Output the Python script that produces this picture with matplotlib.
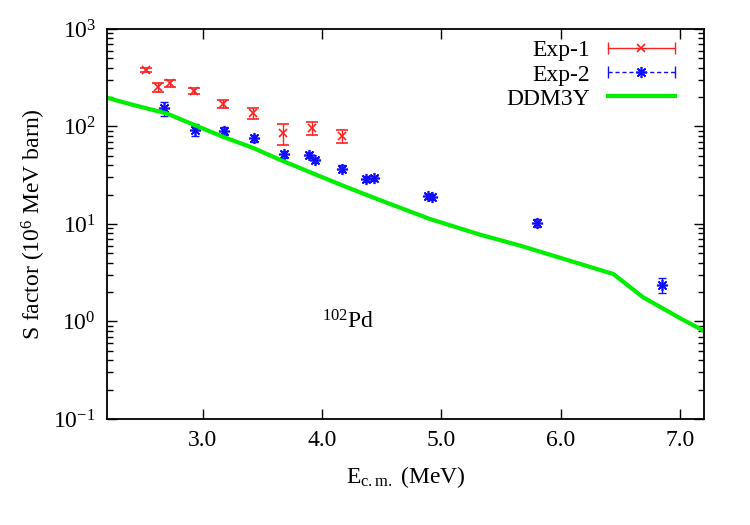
import matplotlib
matplotlib.use("Agg")
import matplotlib.pyplot as plt
from matplotlib.lines import Line2D
from matplotlib.legend_handler import HandlerBase
from matplotlib.ticker import FixedLocator, LogLocator, NullFormatter, NullLocator

plt.rcParams['font.family'] = ['Liberation Serif', 'DejaVu Serif']
plt.rcParams['mathtext.fontset'] = 'custom'
plt.rcParams['mathtext.rm'] = 'Liberation Serif'
plt.rcParams['mathtext.it'] = 'Liberation Serif:italic'
plt.rcParams['mathtext.bf'] = 'Liberation Serif:bold'
plt.rcParams['axes.unicode_minus'] = False

# ---- data ----
exp1_E = [2.53, 2.63, 2.73, 2.93, 3.17, 3.42, 3.67, 3.92, 4.17]
exp1_S = [380, 252, 277, 233, 170, 136, 85, 96, 80]
exp1_err = [18, 28, 20, 18, 15, 18, 20, 15, 13]

exp2_E = [2.68, 2.94, 3.18, 3.43, 3.68, 3.89, 3.94, 4.17, 4.37, 4.44, 4.89, 4.92, 5.80, 6.85]
exp2_S = [154, 92, 90, 76, 52, 51, 45, 37, 29, 29.4, 19.2, 19.0, 10.3, 2.37]
exp2_err = [25, 13, 8, 6, 4, 4, 3, 3, 2, 2, 1.3, 1.3, 1.0, 0.4]

ddm_E = [2.2, 2.39, 2.70, 2.92, 3.17, 3.42, 3.65, 3.93, 4.21, 4.49, 4.90, 5.32, 5.66,
         6.44, 6.69, 7.0, 7.2]
ddm_S = [197, 170, 136, 105, 78.5, 60.5, 45.5, 32.8, 23.8, 17.5, 11.3, 7.8, 6.0,
         3.07, 1.77, 1.08, 0.80]

xticks = [3.0, 4.0, 5.0, 6.0, 7.0]
xtick_labels = ['3.0', '4.0', '5.0', '6.0', '7.0']

red = '#ff2020'
blue = '#1010ff'
green = '#00ee00'

fig = plt.figure(figsize=(7.5, 5.25), dpi=100)
ax = fig.add_axes([0.1427, 0.2019, 0.9387 - 0.1427, 0.9448 - 0.2019])

e1 = ax.errorbar(exp1_E, exp1_S, yerr=exp1_err, fmt='x', color=red, ms=6, mew=1.2,
                 elinewidth=1.0, capsize=4, capthick=1.0, label='Exp-1')
e2 = ax.errorbar(exp2_E, exp2_S, yerr=exp2_err, fmt='none', ecolor=blue,
                 elinewidth=1.0, capsize=3, capthick=1.0, label='Exp-2')
ax.plot(exp2_E, exp2_S, linestyle='none', marker=(8, 2, 0), color=blue, ms=8, mew=1.2)
l3, = ax.plot(ddm_E, ddm_S, color=green, lw=3.0, label='DDM3Y')


class HandlerCapLine(HandlerBase):
    def __init__(self, color, ls, marker, ms, **kw):
        super().__init__(**kw)
        self.color, self.ls, self.marker, self.ms = color, ls, marker, ms

    def create_artists(self, legend, orig_handle, xdescent, ydescent, width, height,
                       fontsize, trans):
        y = height / 2 - ydescent
        x0, x1 = -xdescent, width - xdescent
        line = Line2D([x0, x1], [y, y], color=self.color, ls=self.ls, lw=1.0)
        caps = Line2D([x0, x1], [y, y], color=self.color, ls='none', marker='|', ms=8, mew=1.0)
        mk = Line2D([(x0 + x1) / 2], [y], color=self.color, ls='none', marker=self.marker,
                    ms=self.ms, mew=1.2)
        for a in (line, caps, mk):
            a.set_transform(trans)
        return [line, caps, mk]


leg = ax.legend([e1, e2, l3], ['Exp-1', 'Exp-2', 'DDM3Y'],
                handler_map={e1: HandlerCapLine(red, '-', 'x', 6),
                             e2: HandlerCapLine(blue, (0, (3, 2)), (8, 2, 0), 8)},
                loc='upper right', bbox_to_anchor=(0.9514, 0.972), frameon=False,
                markerfirst=False, fontsize=17, handlelength=2.84, handletextpad=0.76,
                labelspacing=0.11, borderpad=0, borderaxespad=0)

ax.text(4.0, 1.0, r'$^{102}$Pd', fontsize=17, ha='left', va='center')

ax.set_yscale('log')
ax.set_xlim(2.2, 7.2)
ax.set_ylim(0.1, 1000)
ax.xaxis.set_major_locator(FixedLocator(xticks))
ax.set_xticklabels(xtick_labels)
ax.xaxis.set_minor_locator(NullLocator())
ax.yaxis.set_major_locator(LogLocator(base=10, numticks=10))
ax.yaxis.set_minor_locator(LogLocator(base=10, subs=range(2, 10), numticks=20))
ax.yaxis.set_minor_formatter(NullFormatter())

ax.tick_params(which='both', direction='in', top=True, right=True, labelsize=17)
ax.tick_params(which='major', length=7, width=1.0, pad=8)
ax.tick_params(which='minor', length=4, width=1.0)
for s in ax.spines.values():
    s.set_linewidth(1.3)

ax.set_xlabel(r'E$_{\rm c.m.}$ (MeV)', fontsize=17, labelpad=9)
ax.set_ylabel(r'S factor (10$^{6}$ MeV barn)', fontsize=17, labelpad=4)

fig.savefig('out.png', dpi=100)
